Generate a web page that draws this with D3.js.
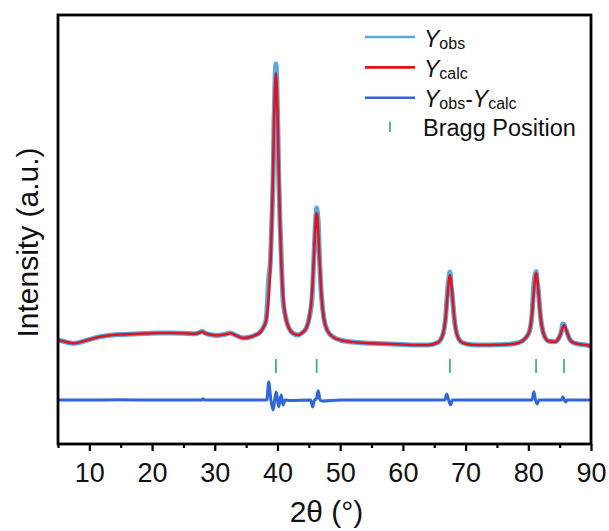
<!DOCTYPE html>
<html>
<head>
<meta charset="utf-8">
<script src="https://cdn.jsdelivr.net/npm/d3@7/dist/d3.min.js"></script>
<style>
  html, body { margin: 0; padding: 0; background: #fff; }
  svg { display: block; font-family: "Liberation Sans", Arial, Helvetica, sans-serif; }
</style>
</head>
<body>
<svg id="chart" width="609" height="531"></svg>
<script>
// 2θ sampling of the refined pattern (denser around the reflections)
const twoTheta = [5, 6, 7, 7.7, 8.5, 10, 11.5, 13, 15, 17, 19, 21, 23, 25, 27, 28, 28.5, 29.2, 30.4, 31.5,
  32.5, 33.5, 34.5, 35.5, 36.5, 37.2, 37.8, 38.2, 38.6, 38.9, 39.1, 39.3, 39.45, 39.6, 39.75, 39.9,
  40.05, 40.2, 40.4, 40.6, 40.9, 41.2, 41.6, 42.0, 42.5, 43.3, 44.0, 44.6, 45.1, 45.5, 45.8, 46.0,
  46.15, 46.25, 46.35, 46.5, 46.7, 47.0, 47.4, 48.0, 49, 50, 52, 54, 56, 58, 60, 62, 64, 65.5,
  66.3, 66.8, 67.1, 67.3, 67.5, 67.7, 67.9, 68.2, 68.7, 69.5, 71, 73, 75, 77, 78.5, 79.5,
  80.2, 80.6, 80.9, 81.1, 81.25, 81.4, 81.6, 81.9, 82.4, 83.2, 84.2, 84.9, 85.3, 85.5, 85.7, 85.9,
  86.1, 86.5, 87, 88, 89, 90];

// calculated profile
const yCalc = [1040, 1025, 1010, 1008, 1018, 1045, 1070, 1085, 1095, 1100, 1105, 1110, 1110, 1108, 1103, 1122, 1108, 1095, 1085, 1095,
  1108, 1082, 1060, 1068, 1090, 1115, 1170, 1240, 1480, 1830, 2220, 2750, 3200, 3560, 3710, 3560,
  3200, 2750, 2220, 1830, 1480, 1300, 1195, 1140, 1105, 1090, 1115, 1160, 1273, 1500, 1858, 2127,
  2280, 2310, 2280, 2127, 1855, 1495, 1255, 1130, 1065, 1040, 1020, 1010, 1005, 1000, 995, 990, 990, 1012,
  1081, 1256, 1473, 1620, 1690, 1620, 1473, 1256, 1081, 1012, 992, 990, 992, 997, 1013, 1055,
  1130, 1305, 1533, 1670, 1710, 1670, 1533, 1305, 1110, 1030, 1022, 1062, 1131, 1171, 1190, 1171,
  1131, 1060, 1018, 1000, 992, 978];

// observed intensities
const yObs = [1040, 1025, 1010, 1008, 1018, 1045, 1070, 1085, 1095, 1100, 1105, 1110, 1110, 1108, 1103, 1125, 1108, 1095, 1085, 1095,
  1110, 1082, 1060, 1068, 1090, 1115, 1172, 1245, 1650, 1860, 2230, 2650, 3210, 3600, 3800, 3610,
  3190, 2683, 2230, 1880, 1430, 1300, 1195, 1140, 1105, 1090, 1115, 1160, 1270, 1450, 1850, 2140,
  2300, 2360, 2320, 2217, 1860, 1495, 1255, 1130, 1065, 1040, 1020, 1010, 1005, 1000, 995, 990, 990, 1012,
  1081, 1256, 1513, 1640, 1720, 1580, 1470, 1256, 1081, 1012, 992, 990, 992, 997, 1013, 1055,
  1130, 1305, 1613, 1690, 1725, 1630, 1530, 1305, 1110, 1030, 1022, 1062, 1131, 1201, 1195, 1151,
  1131, 1060, 1018, 1000, 992, 978];

// difference curve Yobs - Ycalc
const diffTheta = [5, 10, 15, 20, 25, 27.9, 28.1, 28.4, 30, 35, 37, 38.3, 38.6, 38.95, 39.3, 39.55, 39.8, 40.0,
  40.2, 40.4, 40.6, 40.75, 40.9, 41.2, 42, 45.3, 45.6, 45.9, 46.2, 46.5, 46.8, 47.1, 50, 55, 60,
  66.7, 67.0, 67.3, 67.6, 67.9, 72, 77, 80.6, 80.9, 81.15, 81.4, 81.7, 84, 85.3, 85.5, 85.75, 85.95, 86.2, 90];
const diffValue = [0, 0, 2, 0, 0, 0, 12, 0, 0, 0, 0, 0, 180, 0, -100, 0, 80, 0,
  -67, 0, 50, 0, -50, 0, -5, 0, -70, 0, 10, 93, 0, -10, 0, 0, 0,
  0, 60, 0, -50, 0, 0, 0, 0, 83, 0, -40, 0, 0, 0, 33, 0, -20, 0, 0];
const diffOffset = 440;   // vertical shift of the difference curve

// Bragg reflection positions
const braggPositions = [39.75, 46.25, 67.5, 81.24, 85.7];
const braggLevel = 780;

// axis ticks
const xMajorTicks = [10, 20, 30, 40, 50, 60, 70, 80, 90];
const xMinorTicks = [5, 15, 25, 35, 45, 55, 65, 75, 85];
const xTickLabels = ["10", "20", "30", "40", "50", "60", "70", "80", "90"];

const colors = { obs: "#58aadd", calc: "#e3121f", diff: "#2f66d8", bragg: "#3bb878" };

const svg = d3.select("#chart");
const plot = { left: 58, right: 591, top: 15, bottom: 444 };

const x = d3.scaleLinear().domain([5, 90]).range([plot.left, plot.right]);
const y = d3.scaleLinear().domain([0, 4290]).range([plot.bottom, plot.top]);

svg.append("clipPath").attr("id", "plotClip")
  .append("rect").attr("x", plot.left).attr("y", plot.top)
  .attr("width", plot.right - plot.left).attr("height", plot.bottom - plot.top);

const g = svg.append("g").attr("clip-path", "url(#plotClip)");

const pattern = twoTheta.map((t, i) => ({ t, obs: yObs[i], calc: yCalc[i] }));
const diff = diffTheta.map((t, i) => ({ t, v: diffValue[i] }));

const lineObs = d3.line().x(d => x(d.t)).y(d => y(d.obs)).curve(d3.curveMonotoneX);
const lineCalc = d3.line().x(d => x(d.t)).y(d => y(d.calc)).curve(d3.curveMonotoneX);
const lineDiff = d3.line().x(d => x(d.t)).y(d => y(d.v + diffOffset)).curve(d3.curveMonotoneX);

g.append("path").datum(pattern).attr("d", lineObs)
  .attr("fill", "none").attr("stroke", colors.obs).attr("stroke-width", 5)
  .attr("stroke-linejoin", "round");
g.append("path").datum(pattern).attr("d", lineCalc)
  .attr("fill", "none").attr("stroke", colors.calc).attr("stroke-width", 2.6)
  .attr("stroke-linejoin", "round");
g.append("path").datum(diff).attr("d", lineDiff)
  .attr("fill", "none").attr("stroke", colors.diff).attr("stroke-width", 3)
  .attr("stroke-linejoin", "round");

g.selectAll("line.bragg").data(braggPositions).enter().append("line")
  .attr("class", "bragg")
  .attr("x1", d => x(d)).attr("x2", d => x(d))
  .attr("y1", y(braggLevel) - 7).attr("y2", y(braggLevel) + 7)
  .attr("stroke", colors.bragg).attr("stroke-width", 1.8);

// bottom axis: major and minor ticks
const axisMajor = d3.axisBottom(x).tickValues(xMajorTicks)
  .tickFormat((d, i) => xTickLabels[i]).tickSize(7).tickPadding(12);
const axisMinor = d3.axisBottom(x).tickValues(xMinorTicks).tickFormat("").tickSize(4);

const gMinor = svg.append("g").attr("transform", `translate(0,${plot.bottom})`).call(axisMinor);
const gMajor = svg.append("g").attr("transform", `translate(0,${plot.bottom})`).call(axisMajor);
[gMinor, gMajor].forEach(a => {
  a.select(".domain").remove();
  a.selectAll(".tick line").attr("stroke", "#000").attr("stroke-width", 2.2);
});
gMajor.selectAll(".tick text").attr("fill", "#111").style("font-size", "27px");

// frame
svg.append("rect")
  .attr("x", plot.left).attr("y", plot.top)
  .attr("width", plot.right - plot.left).attr("height", plot.bottom - plot.top)
  .attr("fill", "none").attr("stroke", "#000").attr("stroke-width", 2.8);

// axis titles
svg.append("text")
  .attr("x", (plot.left + plot.right) / 2 + 2).attr("y", 522)
  .attr("text-anchor", "middle").style("font-size", "30px").attr("fill", "#111")
  .text("2θ (°)");
svg.append("text")
  .attr("transform", `translate(38,${(plot.top + plot.bottom) / 2 + 13}) rotate(-90)`)
  .attr("text-anchor", "middle").style("font-size", "30px").attr("fill", "#111")
  .text("Intensity (a.u.)");

// legend
const legend = svg.append("g");
const legendRows = [
  { color: colors.obs, parts: [["Y", "i"], ["obs", "s"]] },
  { color: colors.calc, parts: [["Y", "i"], ["calc", "s"]] },
  { color: colors.diff, parts: [["Y", "i"], ["obs", "s"], ["-", "n"], ["Y", "i"], ["calc", "s"]] }
];
legendRows.forEach((row, i) => {
  const ly = 37 + i * 30.4;
  legend.append("line").attr("x1", 365).attr("x2", 415).attr("y1", ly).attr("y2", ly)
    .attr("stroke", row.color).attr("stroke-width", 2.6);
  const t = legend.append("text").attr("x", 424).attr("y", ly + 9.5)
    .style("font-size", "23px").attr("fill", "#111");
  let sub = false;
  row.parts.forEach(([s, k]) => {
    const ts = t.append("tspan").text(s);
    if (k === "i") ts.style("font-style", "italic");
    if (k === "s") { ts.style("font-size", "16px"); if (!sub) ts.attr("dy", 2); sub = true; }
    else if (sub) { ts.attr("dy", -2); sub = false; }
  });
});
legend.append("line").attr("x1", 390).attr("x2", 390).attr("y1", 121.5).attr("y2", 132)
  .attr("stroke", colors.bragg).attr("stroke-width", 1.8);
legend.append("text").attr("x", 423).attr("y", 135.5)
  .style("font-size", "23.5px").attr("fill", "#111").text("Bragg Position");
</script>
</body>
</html>
